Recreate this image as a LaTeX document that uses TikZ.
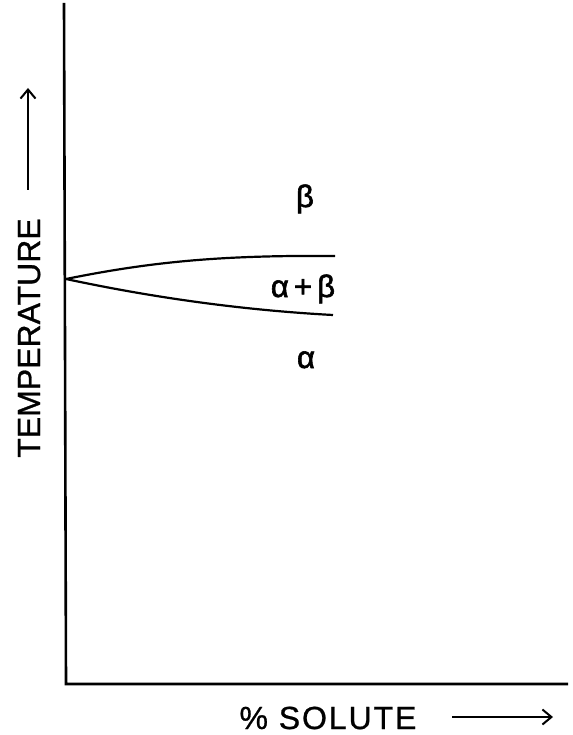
\documentclass[tikz,border=0pt]{standalone}
\usepackage{fontspec}
\setmainfont{Liberation Sans}
\usetikzlibrary{arrows.meta}
\tikzset{
  axis/.style={line width=2.6pt},
  phaseline/.style={line width=2.2pt},
  dirarrow/.style={line width=1.8pt,-{Straight Barb[length=9pt,width=15pt,line width=2pt]}},
  biglabel/.style={font=\fontsize{32}{36}\selectfont\addfontfeature{FakeBold=0.8},inner sep=0pt,anchor=base},
  greek/.style={font=\fontsize{31}{34}\selectfont\addfontfeature{FakeBold=2},inner sep=0pt,anchor=base},
}
\begin{document}
\begin{tikzpicture}[x=1pt,y=-1pt]
\useasboundingbox (0,0) rectangle (572,735);
\coordinate (top) at (64,3);
\coordinate (origin) at (66,684);
\coordinate (xend) at (568,684);
\draw[axis] (top) -- (origin) -- (xend);
\coordinate (tri) at (66,279);
\coordinate (upend) at (335,256);
\coordinate (loend) at (333,315);
\draw[phaseline] (tri) .. controls (150,262) and (220,255) .. (upend);
\draw[phaseline] (tri) .. controls (150,297) and (240,310) .. (loend);
\node[greek] (beta) at (305,207) {β};
\node[greek] (ab) at (303,297) {α\,+\,β};
\node[greek] (alpha) at (306,368) {α};
\node[biglabel,rotate=90] (temp) at (40,338) {TEMPERATURE};
\coordinate (ta) at (28,190);
\coordinate (tb) at (28,88);
\draw[dirarrow] (ta) -- (tb);
\node[biglabel] (sol) at (328,729) {\addfontfeature{LetterSpace=6}\%~SOLUTE};
\coordinate (sa) at (452,717);
\coordinate (sb) at (553,717);
\draw[dirarrow] (sa) -- (sb);
\end{tikzpicture}
\end{document}
